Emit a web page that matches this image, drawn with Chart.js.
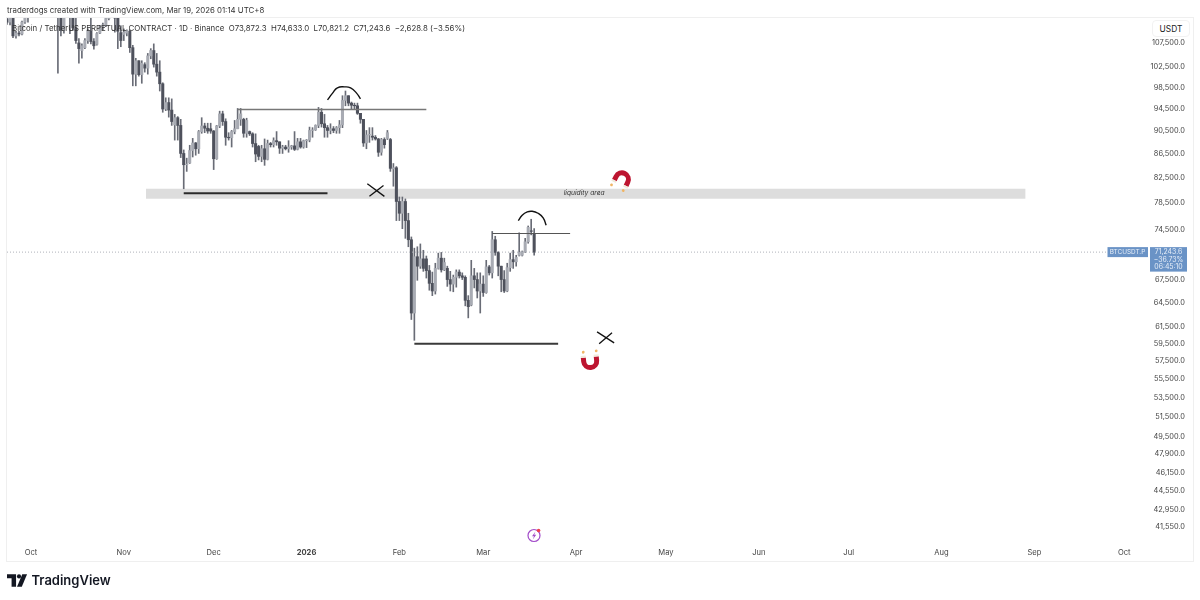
<!DOCTYPE html>
<html>
<head>
<meta charset="utf-8">
<title>BTCUSDT.P 1D</title>
<script src="https://cdn.jsdelivr.net/npm/chart.js@4/dist/chart.umd.min.js"></script>
<style>
  html, body { margin: 0; padding: 0; background: #fff; }
  #page { position: relative; width: 1200px; height: 600px; overflow: hidden; font-family: Inter, "Liberation Sans", sans-serif; }
  #page canvas { position: absolute; left: 0; top: 0; }
  .txt { position: absolute; white-space: pre; color: #222; }
  #credit { left: 7px; top: 4px; font-size: 7.85px; line-height: 12px; color: #333; }
  #legendLine { left: 12px; top: 22px; font-size: 7.85px; line-height: 12px; color: #333; }
  #unit { left: 1152px; top: 20px; width: 38px; height: 17px; line-height: 17px; text-align: center; font-size: 8.4px; box-sizing: border-box; border: 1px solid #f2f2f2; border-radius: 4px; background: #fff; }
  #brand { left: 31.5px; top: 571px; font-size: 13px; line-height: 18px; font-weight: 600; color: #131722; }
  #logo { position: absolute; left: 7px; top: 574px; }
</style>
</head>
<body>
<div id="page">
  <canvas id="chart" width="1200" height="600"></canvas>
  <div class="txt" id="credit">traderdogs created with TradingView.com, Mar 19, 2026 01:14 UTC+8</div>
  <div class="txt" id="legendLine">Bitcoin / TetherUS PERPETUAL CONTRACT · 1D · Binance  O73,872.3  H74,633.0  L70,821.2  C71,243.6  −2,628.8 (−3.56%)</div>
  <div class="txt" id="unit">USDT</div>
  <svg id="logo" width="21" height="14" viewBox="0 0 22 14">
    <path d="M0 0h9.5v13H4.8V4.2H0z" fill="#131722"/>
    <circle cx="12.6" cy="2.2" r="2.2" fill="#131722"/>
    <path d="M16 0h5L15.5 13h-5z" fill="#131722"/>
  </svg>
  <div class="txt" id="brand">TradingView</div>
</div>
<script>
// days counted from 1 Oct 2025, first candle is day -8
const firstDay = -8;
const opens = [
  112700,112000,113400,109000,109600,109400,112000,113000,113900,118600,
  120500,122200,122400,123500,124700,121400,123300,121700,113000,110200,
  115000,115100,113000,110700,107500,105900,106500,108000,110000,107800,
  107200,109600,111000,111400,112800,114400,114100,112900,109700,109300,
  109600,110000,106500,101100,103800,101000,103000,102300,104800,105900,
  103100,101500,99200,94400,95600,94200,91500,92800,91400,86500,
  84600,84900,87000,88300,87300,90300,91300,90900,90800,90400,
  85600,91300,93500,92100,89300,89200,90300,90800,92500,92500,
  90000,90300,89900,88200,87700,86000,87300,85500,88200,88000,
  88700,88500,87400,87600,87300,87600,87800,87200,88500,87600,
  88700,88800,90500,90600,91400,93800,91700,91000,90500,90800,
  90500,91000,91500,96000,96900,95500,95100,95000,93600,92500,
  88300,89700,89500,89300,89000,86700,88900,89100,88900,83900,
  84100,78700,76900,78700,75800,73000,63200,70600,69300,70300,
  70300,68700,67000,66000,69000,70400,68800,69000,67500,66900,
  67800,68500,68000,67800,64800,64200,68000,67500,66000,66900,
  65800,69200,68400,73000,71200,69300,67500,66000,69100,70200,
  69900,70800,70800,71300,72700,74300,73872.3
];
const highs = [
  113500,114000,114000,110000,110000,112200,113500,114500,118700,121000,
  123000,122900,125500,126100,125000,124000,123700,122500,113500,115500,
  116000,115500,113600,113500,108400,107300,108400,110500,113500,108400,
  109700,111300,111800,113000,116000,116300,116000,113000,111200,110500,
  110300,110300,107000,104300,103800,103800,103400,105300,106300,107300,
  105300,103800,99400,96500,96500,96300,93400,93000,92500,87100,
  85700,87900,89100,88400,90500,92800,91800,91800,91800,90500,
  91400,94000,94000,92600,90100,90500,92300,94500,94500,92700,
  92700,90400,90100,89900,87900,87900,89000,88800,88400,89200,
  90300,88500,87900,87900,88700,87900,90300,89100,89100,88800,
  88900,91100,91000,91500,94700,94500,93400,91400,91700,91200,
  91200,92300,96900,97800,96900,95700,95500,95500,93600,92500,
  90500,91000,91000,89600,89100,89100,89200,90500,89100,84800,
  84300,79400,79400,79100,76900,73400,71800,72000,72400,71500,
  70700,69400,68500,69700,71100,71200,70400,69300,68600,68100,
  68800,68800,68400,68000,65400,70100,69000,68400,68400,68000,
  70100,69400,74200,73500,71300,69300,68700,69700,71100,71500,
  70800,74000,71400,73200,75000,76000,74633
];
const lows = [
  111500,111400,108600,108500,109000,109200,111700,112000,113800,118400,
  119300,121500,122000,123000,120600,121000,119900,101300,109000,109600,
  113000,109500,110200,107400,103300,104300,106300,107400,107300,106200,
  107000,109500,110300,111000,112500,113000,109800,106300,106700,108000,
  109000,105500,98800,98800,100700,99300,101500,101100,104200,102500,
  100700,97800,93800,94100,92900,91400,88800,88800,85800,80700,
  83500,84800,85900,86200,86500,90000,90100,90000,90000,83800,
  85500,91000,91400,87900,88800,87600,89900,90800,91400,89300,
  89300,89600,87600,85100,85400,85100,84500,85400,87600,87600,
  87900,86500,86500,87100,86700,87200,87000,87100,87400,87400,
  87500,88500,89300,90500,91000,91100,89300,89300,89900,90100,
  90000,90000,91000,95000,95000,94300,94400,93400,91800,87700,
  87300,88400,88800,88800,86000,86200,87400,88900,83500,81100,
  75800,75800,74600,73200,72000,62400,59900,67400,69000,68600,
  67700,66100,65400,65600,68900,68500,68700,66600,66000,65900,
  66500,67700,67500,64100,62600,64100,66400,65100,63200,65300,
  65700,68100,67700,70800,68000,65900,65800,65900,68600,69000,
  69300,70700,70700,71200,72500,73700,70821.2
];
const closes = [
  112000,113400,109000,109600,109400,112000,113000,113900,118600,120500,
  122200,122400,123500,124700,121400,123300,121700,113000,110200,115000,
  115100,113000,110700,108000,106300,106900,108000,110200,107800,106900,
  109500,111000,111400,112800,114400,114100,112900,110000,108000,109800,
  110100,106500,101100,103800,101000,103300,102300,104800,105900,103100,
  101500,99200,94400,95600,94200,92100,92800,91400,86500,84600,
  84700,87000,88300,87300,90300,91300,90900,90400,90400,85600,
  91300,93500,92100,89300,89200,90300,90800,92500,93500,90000,
  92300,89900,88200,86400,86000,87300,85500,88200,88000,88700,
  88500,87400,87600,87300,87600,87800,87200,88500,87600,88700,
  88800,90500,90600,91400,93800,91700,91000,90500,90800,90500,
  91000,91500,96000,96900,95500,95100,95000,93600,92500,88300,
  89700,89800,89300,89000,86700,88900,88000,90100,84000,84100,
  78700,76900,78700,75800,73000,63200,70600,69300,70300,69000,
  68700,67000,66000,69000,70400,68800,69800,67500,66900,67800,
  68500,68000,67800,64800,64000,68000,67500,66000,66900,65800,
  69200,68400,73000,71200,69300,67500,66000,69100,70200,69900,
  70500,71200,71300,72700,74800,74200,71243.6
];

const priceTicks = [107500,102500,98500,94500,90500,86500,82500,78500,74500,67500,64500,61500,59500,57500,55500,53500,51500,49500,47900,46150,44550,42950,41550];
const monthDays = [0,31,61,92,123,151,182,212,243,273,304,335,365];
const monthLabels = ['Oct','Nov','Dec','2026','Feb','Mar','Apr','May','Jun','Jul','Aug','Sep','Oct'];

const lastPrice = 71243.6;
const lastPriceEnd = 359.6;
// trader's drawings, [day, price]
const topLevel = [[69,94300],[132,94300]];
const lowLevel = [[51,80000],[99,80000]];
const recentTop = [[154,73900],[180,73900]];
const recentLow = [[128,59500],[176,59500]];
const arcOne = [[99,96100],[100.7,97400],[102.3,98400],[104.7,98600],[106.7,98400],[108.7,97400],[110,96300]];
const arcTwo = [[162.7,75800],[164,76600],[165.7,77100],[167.3,77200],[169.3,76900],[171,76200],[172,75100]];
const crossA1 = [[112.3,81500],[118,79500]];
const crossA2 = [[113,79500],[117.7,81200]];
const crossB1 = [[189,60900],[194.7,59600]];
const crossB2 = [[189.7,59500],[194,60800]];
const zoneDays = [38.4,332];
const zonePrices = [79130,80700];
const zoneLabelDay = 184.7;
const topMagnet = [197.3,82200];
const bottomMagnet = [186.7,57500];

const upColor = '#a8abb3';
const downColor = '#4e515c';
const wickColor = '#696c76';

const days = opens.map((_, i) => firstDay + i);
const wickData = days.map((d, i) => ({ x: d, y: [lows[i], highs[i]] }));
const upData = [], downData = [];
days.forEach((d, i) => {
  const item = { x: d, y: [Math.min(opens[i], closes[i]), Math.max(opens[i], closes[i])] };
  (closes[i] >= opens[i] ? upData : downData).push(item);
});

function lineSet(points, color, width, extra) {
  return Object.assign({
    type: 'line',
    data: points.map(p => ({ x: p[0], y: p[1] })),
    borderColor: color,
    borderWidth: width,
    pointRadius: 0,
    fill: false,
    order: 1
  }, extra || {});
}

function drawMagnet(ctx, x, y, angle) {
  // horseshoe opening towards angle 0 = down
  ctx.save();
  ctx.translate(x, y);
  ctx.rotate(angle);
  ctx.lineCap = 'butt';
  ctx.strokeStyle = '#bd1530';
  ctx.lineWidth = 5;
  ctx.beginPath();
  ctx.moveTo(-6.5, 4);
  ctx.lineTo(-6.5, 0);
  ctx.arc(0, 0, 6.5, Math.PI, 0);
  ctx.lineTo(6.5, 4);
  ctx.stroke();
  ctx.strokeStyle = '#f1eadb';
  ctx.beginPath();
  ctx.moveTo(-6.5, 4);
  ctx.lineTo(-6.5, 6);
  ctx.moveTo(6.5, 4);
  ctx.lineTo(6.5, 6);
  ctx.stroke();
  ctx.fillStyle = '#f0b565';
  [-7, 6].forEach(dx => {
    ctx.beginPath();
    ctx.arc(dx, 9.5, 1.4, 0, Math.PI * 2);
    ctx.fill();
  });
  ctx.restore();
}

const extras = {
  id: 'extras',
  beforeDatasetsDraw(chart) {
    const { ctx, scales: { x, y } } = chart;
    ctx.save();
    ctx.fillStyle = '#dddddd';
    const top = y.getPixelForValue(zonePrices[1]);
    ctx.fillRect(x.getPixelForValue(zoneDays[0]), top,
      x.getPixelForValue(zoneDays[1]) - x.getPixelForValue(zoneDays[0]),
      y.getPixelForValue(zonePrices[0]) - top);
    ctx.restore();
  },
  afterDatasetsDraw(chart) {
    const { ctx, scales: { x, y } } = chart;
    ctx.save();
    // frame
    ctx.strokeStyle = '#efefef';
    ctx.lineWidth = 1;
    ctx.strokeRect(6.5, 17.5, 1187, 544);

    ctx.fillStyle = '#333';
    ctx.font = 'italic 6.7px Inter, sans-serif';
    ctx.textAlign = 'center';
    ctx.textBaseline = 'middle';
    ctx.fillText('liquidity area', x.getPixelForValue(zoneLabelDay), y.getPixelForValue(80000));

    drawMagnet(ctx, x.getPixelForValue(topMagnet[0]), y.getPixelForValue(topMagnet[1]), 0.45);
    drawMagnet(ctx, x.getPixelForValue(bottomMagnet[0]), y.getPixelForValue(bottomMagnet[1]), Math.PI - 0.1);

    // last price tags
    const py = y.getPixelForValue(lastPrice);
    ctx.fillStyle = '#6a93c6';
    ctx.fillRect(1107.5, py - 5, 40.5, 10);
    ctx.fillRect(1150, py - 5, 37, 24.5);
    ctx.fillStyle = '#e6eef8';
    ctx.font = '6.4px Inter, sans-serif';
    ctx.fillText('BTCUSDT.P', 1127.5, py);
    ctx.font = '6.9px Inter, sans-serif';
    ctx.fillText('71,243.6', 1168.5, py + 0.3);
    ctx.fillText('−36.73%', 1168.5, py + 7.5);
    ctx.fillText('06:45:10', 1168.5, py + 14.7);

    // bolt badge
    const bx = 534, by = 535.5;
    ctx.strokeStyle = '#a24cc9';
    ctx.lineWidth = 1.2;
    ctx.beginPath();
    ctx.arc(bx, by, 6, 0, Math.PI * 2);
    ctx.stroke();
    ctx.fillStyle = '#a24cc9';
    ctx.beginPath();
    ctx.moveTo(bx + 1.5, by - 4);
    ctx.lineTo(bx - 2, by + 0.7);
    ctx.lineTo(bx, by + 0.7);
    ctx.lineTo(bx - 1.2, by + 4);
    ctx.lineTo(bx + 2.2, by - 0.8);
    ctx.lineTo(bx + 0.2, by - 0.8);
    ctx.closePath();
    ctx.fill();
    ctx.fillStyle = '#ee3f4d';
    ctx.beginPath();
    ctx.arc(bx + 4.6, by - 5, 1.8, 0, Math.PI * 2);
    ctx.fill();
    ctx.restore();
  }
};

const chart = new Chart(document.getElementById('chart').getContext('2d'), {
  data: {
    datasets: [
      { type: 'bar', data: wickData, backgroundColor: wickColor, barThickness: 1, grouped: false, order: 4 },
      { type: 'bar', data: upData, backgroundColor: upColor, barThickness: 2.4, grouped: false, order: 3 },
      { type: 'bar', data: downData, backgroundColor: downColor, barThickness: 2.4, grouped: false, order: 3 },
      lineSet([[firstDay, lastPrice], [lastPriceEnd, lastPrice]], '#b0b3ba', 1, { borderDash: [1, 2] }),
      lineSet(topLevel, '#777777', 1.4),
      lineSet(lowLevel, '#2b2b2b', 2),
      lineSet(recentTop, '#555555', 1.2),
      lineSet(recentLow, '#3a3a3a', 2),
      lineSet(arcOne, '#111111', 1.4, { tension: 0.5 }),
      lineSet(arcTwo, '#111111', 1.4, { tension: 0.5 }),
      lineSet(crossA1, '#111111', 1.3),
      lineSet(crossA2, '#111111', 1.3),
      lineSet(crossB1, '#111111', 1.3),
      lineSet(crossB2, '#111111', 1.3)
    ]
  },
  options: {
    responsive: false,
    animation: false,
    layout: { padding: { left: 7, top: 18, right: 15, bottom: 42 } },
    plugins: { legend: { display: false }, tooltip: { enabled: false } },
    scales: {
      x: {
        type: 'linear',
        offset: false,
        min: -8,
        max: 372.6,
        grid: { display: false, drawTicks: false },
        border: { display: false },
        afterBuildTicks(axis) { axis.ticks = monthDays.map(v => ({ value: v })); },
        afterFit(axis) { axis.height = 13; },
        ticks: {
          autoSkip: false,
          maxRotation: 0,
          padding: 3,
          color: '#444',
          font: ctx => ctx.index === 3
            ? { family: 'Inter', size: 7.6, weight: 'bold' }
            : { family: 'Inter', size: 7.6 },
          callback: (v, i) => monthLabels[i]
        }
      },
      y: {
        type: 'logarithmic',
        position: 'right',
        min: 40050,
        max: 112900,
        grid: { display: false, drawTicks: false },
        border: { display: false },
        afterBuildTicks(axis) { axis.ticks = priceTicks.map(v => ({ value: v })); },
        afterFit(axis) { axis.width = 38; },
        ticks: {
          autoSkip: false,
          crossAlign: 'far',
          padding: 0,
          color: '#444',
          font: { family: 'Inter', size: 7.4 },
          callback: v => v.toLocaleString('en-US', { minimumFractionDigits: 1, maximumFractionDigits: 1 })
        }
      }
    }
  },
  plugins: [extras]
});
</script>
</body>
</html>
